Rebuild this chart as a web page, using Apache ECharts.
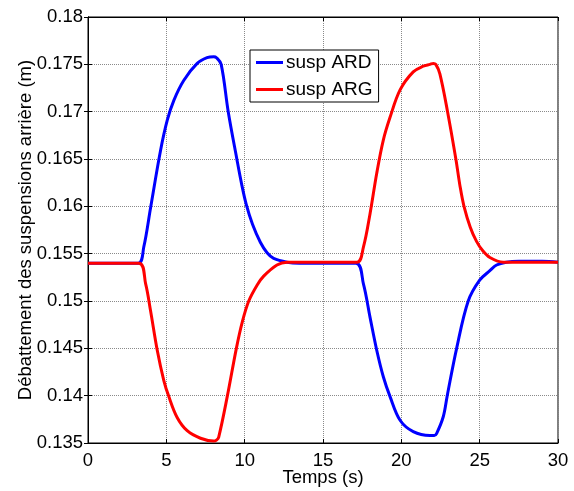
<!DOCTYPE html>
<html>
<head>
<meta charset="utf-8">
<script src="https://cdn.jsdelivr.net/npm/echarts@6/dist/echarts.min.js"></script>
<style>
  html, body { margin: 0; padding: 0; background: #fff; }
  #chart { width: 574px; height: 491px; }
</style>
</head>
<body>
<div id="chart"></div>
<script>
// susp ARD (bleu) - temps (s) / débattement (m)
var ardTime = [0, 3.2, 3.56, 4.0, 4.63, 5.06, 5.48, 6.11, 6.97, 7.6, 8.03, 8.2, 8.5, 8.95, 9.5, 9.8, 10.1, 10.5, 11.0, 11.43, 11.85, 12.7, 13.5, 17.1, 17.58, 18.0, 18.43, 18.85, 19.28, 19.92, 20.76, 21.83, 22.1, 22.25, 22.68, 22.93, 23.53, 24.27, 25.0, 25.65, 26.08, 26.7, 27.5, 29.0, 30]
var ardValue = [0.154, 0.154, 0.1557, 0.1599, 0.1659, 0.1691, 0.1712, 0.1733, 0.1751, 0.1757, 0.1758, 0.1757, 0.1750, 0.1700, 0.1650, 0.1624, 0.1602, 0.1581, 0.1562, 0.1551, 0.1545, 0.1541, 0.1540, 0.1540, 0.1518, 0.1483, 0.1448, 0.1420, 0.1399, 0.1374, 0.1362, 0.1358, 0.1358, 0.1360, 0.1378, 0.1400, 0.1450, 0.1500, 0.1522, 0.1532, 0.1538, 0.1541, 0.1542, 0.1542, 0.1541]

// susp ARG (rouge)
var argTime = [0, 3.25, 3.68, 3.99, 4.42, 4.84, 5.16, 5.69, 6.33, 7.18, 8.03, 8.2, 8.34, 8.9, 9.47, 9.85, 10.26, 10.8, 11.2, 12.06, 12.7, 13.5, 17.16, 17.58, 18.0, 18.43, 18.85, 19.28, 19.92, 20.76, 21.4, 21.83, 22.04, 22.2, 22.46, 22.95, 23.48, 23.75, 24.0, 24.4, 24.8, 25.2, 25.65, 26.5, 27.5, 30]
var argValue = [0.154, 0.154, 0.1518, 0.1490, 0.1448, 0.1416, 0.1399, 0.1377, 0.1363, 0.1355, 0.1352, 0.1353, 0.1356, 0.1400, 0.1450, 0.1478, 0.1500, 0.1517, 0.1526, 0.1538, 0.1541, 0.1541, 0.1541, 0.1557, 0.1592, 0.1635, 0.1670, 0.1694, 0.1723, 0.1742, 0.1748, 0.1750, 0.1751, 0.1750, 0.1740, 0.1700, 0.1650, 0.1621, 0.1600, 0.1578, 0.1563, 0.1553, 0.1546, 0.1541, 0.1541, 0.1541]

var seriesNames = ['susp ARD', 'susp ARG']
var xTicks = { min: 0, max: 30, interval: 5 }
var yTicks = { min: 0.135, max: 0.18, interval: 0.005 }

function pairs (xs, ys) {
  return xs.map(function (x, i) { return [x, ys[i]] })
}

var font = 'Liberation Sans, Arial, sans-serif'
var myChart = echarts.init(document.getElementById('chart'))

var gridLine = { show: true, lineStyle: { color: '#8a8a8a', type: [1, 1], width: 1 } }
var blackLine = { show: true, lineStyle: { color: '#000', width: 1 } }
var tickIn = { show: true, inside: true, length: 4, lineStyle: { color: '#000' } }

var option = {
  animation: false,
  backgroundColor: '#fff',
  grid: {
    left: 88, right: 16, top: 17, bottom: 48,
    outerBoundsMode: 'none',
    containLabel: false,
    show: true, borderColor: '#000', borderWidth: 1
  },
  legend: {
    orient: 'vertical',
    left: 250,
    top: 50,
    padding: [3, 6, 3, 6],
    itemGap: 8,
    itemWidth: 27,
    itemHeight: 3,
    icon: 'rect',
    backgroundColor: '#fff',
    borderColor: '#000',
    borderWidth: 1,
    borderRadius: 0,
    textStyle: { fontSize: 19, color: '#000', fontFamily: font, padding: [0, 0, 0, -2] },
    data: seriesNames
  },
  xAxis: [
    {
      type: 'value',
      min: xTicks.min, max: xTicks.max, interval: xTicks.interval,
      name: 'Temps (s)',
      nameLocation: 'middle',
      nameGap: 25,
      nameMoveOverlap: false,
      nameTextStyle: { fontSize: 18.5, color: '#000', fontFamily: font },
      axisLine: blackLine,
      axisTick: tickIn,
      axisLabel: { fontSize: 18.5, color: '#000', fontFamily: font, margin: 8 },
      splitLine: gridLine
    },
    {
      type: 'value', position: 'top',
      min: xTicks.min, max: xTicks.max, interval: xTicks.interval,
      axisLine: blackLine,
      axisTick: tickIn,
      axisLabel: { show: false },
      splitLine: { show: false }
    }
  ],
  yAxis: [
    {
      type: 'value',
      min: yTicks.min, max: yTicks.max, interval: yTicks.interval,
      name: 'Débattement des suspensions arrière (m)',
      nameLocation: 'middle',
      nameGap: 53,
      nameMoveOverlap: false,
      nameTextStyle: { fontSize: 18.5, color: '#000', fontFamily: font },
      axisLine: blackLine,
      axisTick: tickIn,
      axisLabel: {
        fontSize: 18.5, color: '#000', fontFamily: font, margin: 5,
        formatter: function (v) { return String(+v.toFixed(3)) }
      },
      splitLine: gridLine
    },
    {
      type: 'value', position: 'right',
      min: yTicks.min, max: yTicks.max, interval: yTicks.interval,
      axisLine: blackLine,
      axisTick: tickIn,
      axisLabel: { show: false },
      splitLine: { show: false }
    }
  ],
  series: [
    {
      name: seriesNames[0],
      type: 'line',
      smooth: 0.35,
      symbol: 'none',
      itemStyle: { color: '#0000ff' },
      lineStyle: { color: '#0000ff', width: 3 },
      data: pairs(ardTime, ardValue)
    },
    {
      name: seriesNames[1],
      type: 'line',
      smooth: 0.35,
      symbol: 'none',
      itemStyle: { color: '#ff0000' },
      lineStyle: { color: '#ff0000', width: 3 },
      data: pairs(argTime, argValue)
    }
  ]
}
myChart.setOption(option)
</script>
</body>
</html>
